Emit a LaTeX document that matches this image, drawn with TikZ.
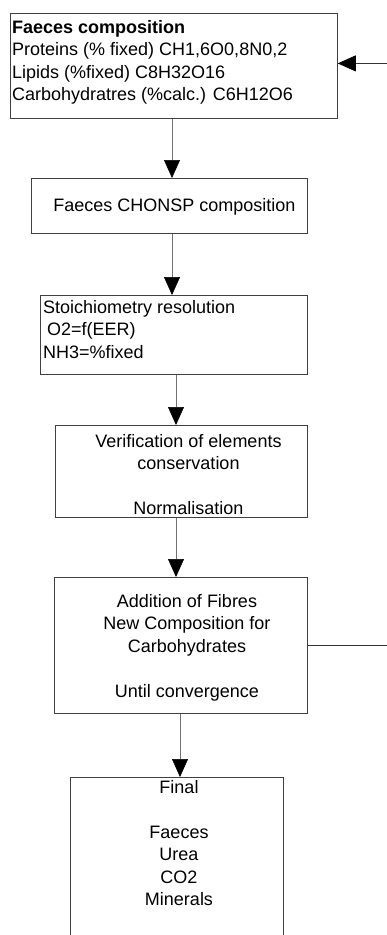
\documentclass[tikz,border=0pt]{standalone}
\usepackage{fontspec}
\setmainfont{Liberation Sans}
\usetikzlibrary{arrows.meta}
\begin{document}
\begin{tikzpicture}[x=1pt,y=-1pt,
  box/.style={draw=black!75,line width=0.8pt,inner sep=0pt,anchor=north west},
  txt/.style={inner sep=0pt,font=\fontsize{18}{22.5}\selectfont},
  conn/.style={draw=black!55,line width=0.6pt,-{Triangle[length=18pt,width=16pt,color=black]}},
  fb/.style={draw=black!80,line width=0.7pt,-{Triangle[length=18pt,width=16pt,color=black]}}]
\clip (0,0) rectangle (387,935);
\useasboundingbox (0,0) rectangle (387,935);
% boxes
\node[box,minimum width=327pt,minimum height=105pt] (b1) at (10,13) {};
\node[box,minimum width=276pt,minimum height=55pt] (b2) at (31,178) {};
\node[box,minimum width=267pt,minimum height=79pt] (b3) at (40,295) {};
\node[box,minimum width=252pt,minimum height=92pt] (b4) at (55,425) {};
\node[box,minimum width=253pt,minimum height=136pt] (b5) at (54,577) {};
\node[box,minimum width=213pt,minimum height=183pt] (b6) at (70,777) {};
% texts
\node[txt,anchor=north west,align=left] (t1) at (12,19.9)
  {\textbf{Faeces composition}\\Proteins (\% fixed) CH1,6O0,8N0,2\\Lipids (\%fixed) C8H32O16\\Carbohydratres (\%calc.) C6H12O6};
\node[txt,anchor=north] (t2) at (174.5,197.9) {Faeces CHONSP composition};
\node[txt,anchor=north west,align=left] (t3) at (43,299.9)
  {Stoichiometry resolution\\\hspace*{4pt}O2=f(EER)\\NH3=\%fixed};
\node[txt,anchor=north,align=center] (t4) at (188.5,433.9)
  {Verification of elements\\conservation\\[22.5pt]Normalisation};
\node[txt,anchor=north,align=center] (t5) at (187,593.9)
  {Addition of Fibres\\New Composition for\\Carbohydrates\\[22.5pt]Until convergence};
\node[txt,anchor=north,align=center] (t6) at (179,779.9)
  {Final\\[22.5pt]Faeces\\Urea\\CO2\\Minerals};
% connector columns
\coordinate (a1) at (172,0);
\coordinate (a3) at (176,0);
\coordinate (a5) at (180,0);
\draw[conn] (b1.south -| a1) -- (b2.north -| a1);
\draw[conn] (b2.south -| a1) -- (b3.north -| a1);
\draw[conn] (b3.south -| a3) -- (b4.north -| a3);
\draw[conn] (b4.south -| a3) -- (b5.north -| a3);
\draw[conn] (b5.south -| a5) -- (b6.north -| a5);
% feedback loop
\draw[fb] (b5.east) -- ++(120,0) |- ([yshift=2.5pt]b1.east);
\end{tikzpicture}
\end{document}
